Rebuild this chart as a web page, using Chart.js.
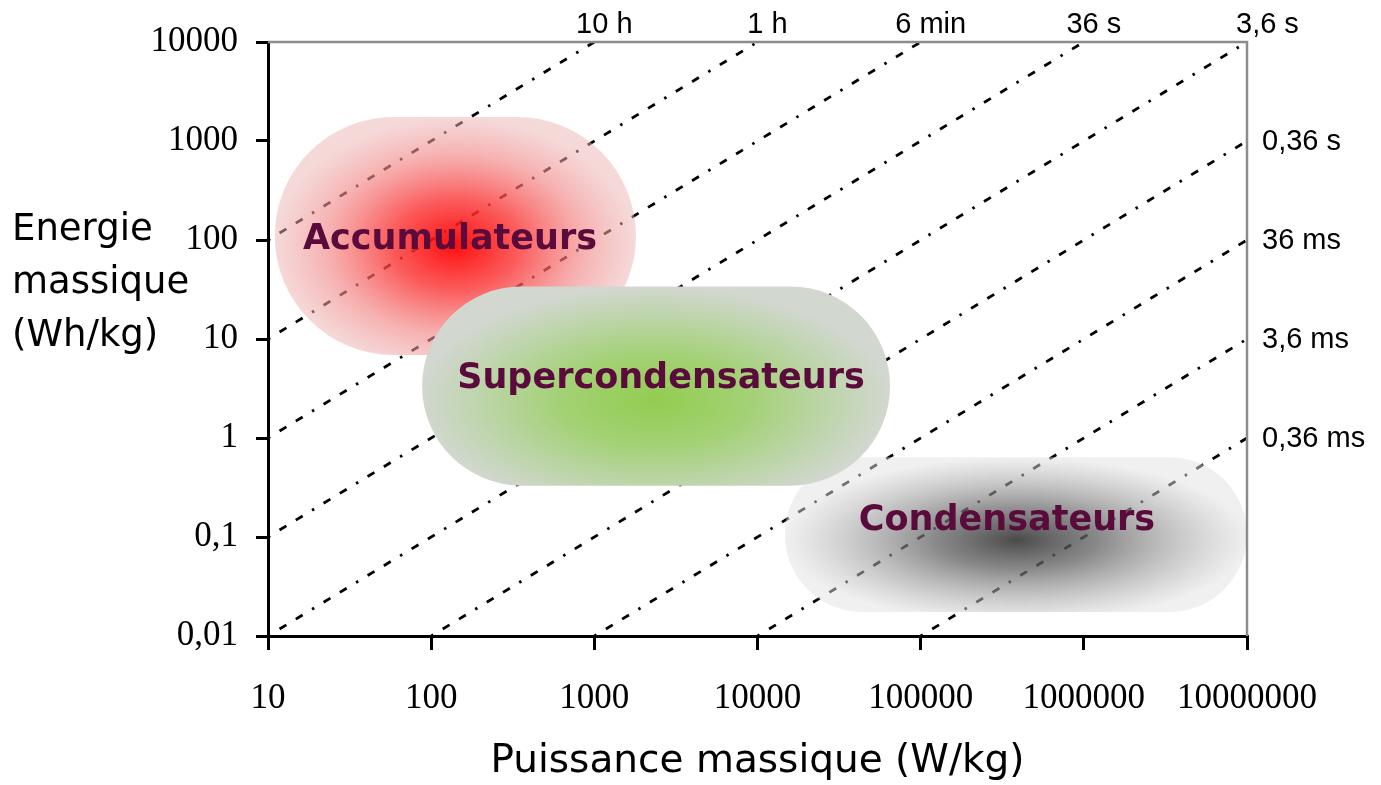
<!DOCTYPE html>
<html>
<head>
<meta charset="utf-8">
<script src="https://cdn.jsdelivr.net/npm/chart.js@4/dist/chart.umd.min.js"></script>
<style>
  html, body { margin: 0; padding: 0; background: #fff; }
  canvas { display: block; }
</style>
</head>
<body>
<canvas id="ragone" width="1381" height="785"></canvas>
<script>
// Axis ticks (decades)
const powerTicks = [10, 100, 1000, 10000, 100000, 1000000, 10000000];
const energyTicks = [0.01, 0.1, 1, 10, 100, 1000, 10000];

// Constant-time lines E = P * t (t in hours)
const timeLabels = ['10 h', '1 h', '6 min', '36 s', '3,6 s', '0,36 s', '36 ms', '3,6 ms', '0,36 ms'];
const timeHours = [10, 1, 0.1, 0.01, 0.001, 0.0001, 0.00001, 0.000001, 0.0000001];

// Technology regions (W/kg and Wh/kg)
const regionNames = ['Accumulateurs', 'Condensateurs', 'Supercondensateurs'];
const regionPMin = [11, 14700, 88];
const regionPMax = [1800, 10000000, 64900];
const regionEMin = [6.9, 0.0175, 0.33];
const regionEMax = [1750, 0.64, 34];
const regionPPeak = [140, 389000, 2350];
const regionEPeak = [89, 0.093, 2.4];

const blobStops = [
    [[0, 'rgba(255,0,0,0.95)'], [0.35, 'rgba(250,55,55,0.82)'], [0.7, 'rgba(242,135,135,0.66)'], [1, 'rgba(236,180,180,0.5)']],
    [[0, 'rgba(55,55,55,0.9)'], [0.35, 'rgba(100,100,100,0.76)'], [0.7, 'rgba(165,165,165,0.6)'], [1, 'rgba(225,225,225,0.5)']],
    [[0, 'rgb(146,205,80)'], [0.4, 'rgb(163,209,117)'], [0.75, 'rgb(190,213,172)'], [1, 'rgb(210,215,208)']]
];
const labelAt = [[450, 240], [1007, 521], [661, 379]];

const xMin = powerTicks[0], xMax = powerTicks[powerTicks.length - 1];
const yMin = energyTicks[0], yMax = energyTicks[energyTicks.length - 1];

function lineEnds(t) {
    const p0 = Math.max(xMin, yMin / t);
    const p1 = Math.min(xMax, yMax / t);
    return [{ x: p0, y: p0 * t }, { x: p1, y: p1 * t }];
}

function fmt(v) {
    return String(v).replace('.', ',');
}

const comic = '"Comic Sans MS", "DejaVu Sans", sans-serif';

const overlay = {
    id: 'overlay',
    afterDatasetsDraw(chart) {
        const { ctx, scales: { x, y } } = chart;

        // shaded regions
        regionNames.forEach((name, i) => {
            const l = x.getPixelForValue(regionPMin[i]);
            const r = x.getPixelForValue(regionPMax[i]);
            const t = y.getPixelForValue(regionEMax[i]);
            const b = y.getPixelForValue(regionEMin[i]);
            const cx = x.getPixelForValue(regionPPeak[i]);
            const cy = y.getPixelForValue(regionEPeak[i]);
            const rx = Math.max(cx - l, r - cx);
            const ry = Math.max(cy - t, b - cy);
            ctx.save();
            ctx.beginPath();
            ctx.roundRect(l, t, r - l, b - t, (b - t) / 2);
            ctx.clip();
            ctx.translate(cx, cy);
            ctx.scale(rx / ry, 1);
            const g = ctx.createRadialGradient(0, 0, 0, 0, 0, ry);
            blobStops[i].forEach(s => g.addColorStop(s[0], s[1]));
            ctx.fillStyle = g;
            ctx.fillRect(-3000, -3000, 6000, 6000);
            ctx.restore();
        });

        // region names
        ctx.save();
        ctx.fillStyle = '#5a0b3b';
        ctx.font = 'bold 35px ' + comic;
        ctx.textAlign = 'center';
        ctx.textBaseline = 'middle';
        regionNames.forEach((name, i) => {
            ctx.fillText(name, labelAt[i][0], labelAt[i][1]);
        });
        ctx.restore();
    },
    afterDraw(chart) {
        const { ctx, chartArea: a, scales: { x, y } } = chart;

        // grey frame on top and right
        ctx.save();
        ctx.strokeStyle = '#8c8c8c';
        ctx.lineWidth = 2.5;
        ctx.beginPath();
        ctx.moveTo(a.left, a.top);
        ctx.lineTo(a.right, a.top);
        ctx.lineTo(a.right, a.bottom);
        ctx.stroke();

        // time constant labels
        ctx.fillStyle = '#000';
        ctx.font = '29px "Liberation Sans", Arial, sans-serif';
        timeHours.forEach((t, i) => {
            const end = lineEnds(t)[1];
            const px = x.getPixelForValue(end.x);
            const py = y.getPixelForValue(end.y);
            if (end.y >= yMax && end.x < xMax) {
                ctx.textAlign = 'center';
                ctx.textBaseline = 'alphabetic';
                ctx.fillText(timeLabels[i], px + 10, a.top - 9);
            } else if (end.y >= yMax) {
                ctx.textAlign = 'left';
                ctx.textBaseline = 'alphabetic';
                ctx.fillText(timeLabels[i], px - 11, a.top - 9);
            } else {
                ctx.textAlign = 'left';
                ctx.textBaseline = 'middle';
                ctx.fillText(timeLabels[i], a.right + 15, py + 1);
            }
        });

        // y axis title
        ctx.font = '37px ' + comic;
        ctx.textAlign = 'left';
        ctx.textBaseline = 'middle';
        ['Energie', 'massique', '(Wh/kg)'].forEach((s, i) => {
            ctx.fillText(s, 12, 230 + i * 53);
        });
        ctx.restore();
    }
};

Chart.defaults.color = '#000';

new Chart(document.getElementById('ragone'), {
    type: 'line',
    data: {
        datasets: timeHours.map((t, i) => ({
            label: timeLabels[i],
            data: lineEnds(t),
            borderColor: '#000',
            borderWidth: 2.8,
            borderDash: [2.5, 11, 8, 11, 8, 11],
            pointRadius: 0,
            fill: false,
            clip: 0
        }))
    },
    options: {
        responsive: false,
        animation: false,
        layout: { padding: { left: 0, top: 42, right: 134, bottom: 0 } },
        plugins: {
            legend: { display: false },
            tooltip: { enabled: false }
        },
        scales: {
            x: {
                type: 'logarithmic',
                min: xMin,
                max: xMax,
                afterBuildTicks: s => { s.ticks = powerTicks.map(v => ({ value: v })); },
                afterFit: s => { s.height = 149; },
                grid: { drawOnChartArea: false, color: '#000', lineWidth: 3, tickLength: 14 },
                border: { color: '#000', width: 3 },
                ticks: {
                    autoSkip: false,
                    maxRotation: 0,
                    padding: 28,
                    color: '#000',
                    font: { family: '"Liberation Serif", "Times New Roman", serif', size: 35 },
                    callback: v => fmt(v)
                },
                title: {
                    display: true,
                    text: 'Puissance massique (W/kg)',
                    color: '#000',
                    padding: { top: 0, bottom: 0 },
                    font: { family: comic, size: 39 }
                }
            },
            y: {
                type: 'logarithmic',
                min: yMin,
                max: yMax,
                afterBuildTicks: s => { s.ticks = energyTicks.map(v => ({ value: v })); },
                afterFit: s => { s.width = 268; },
                grid: { drawOnChartArea: false, color: '#000', lineWidth: 3, tickLength: 12 },
                border: { color: '#000', width: 3 },
                ticks: {
                    autoSkip: false,
                    padding: 18,
                    color: '#000',
                    font: { family: '"Liberation Serif", "Times New Roman", serif', size: 35 },
                    callback: v => fmt(v)
                }
            }
        }
    },
    plugins: [overlay]
});
</script>
</body>
</html>
